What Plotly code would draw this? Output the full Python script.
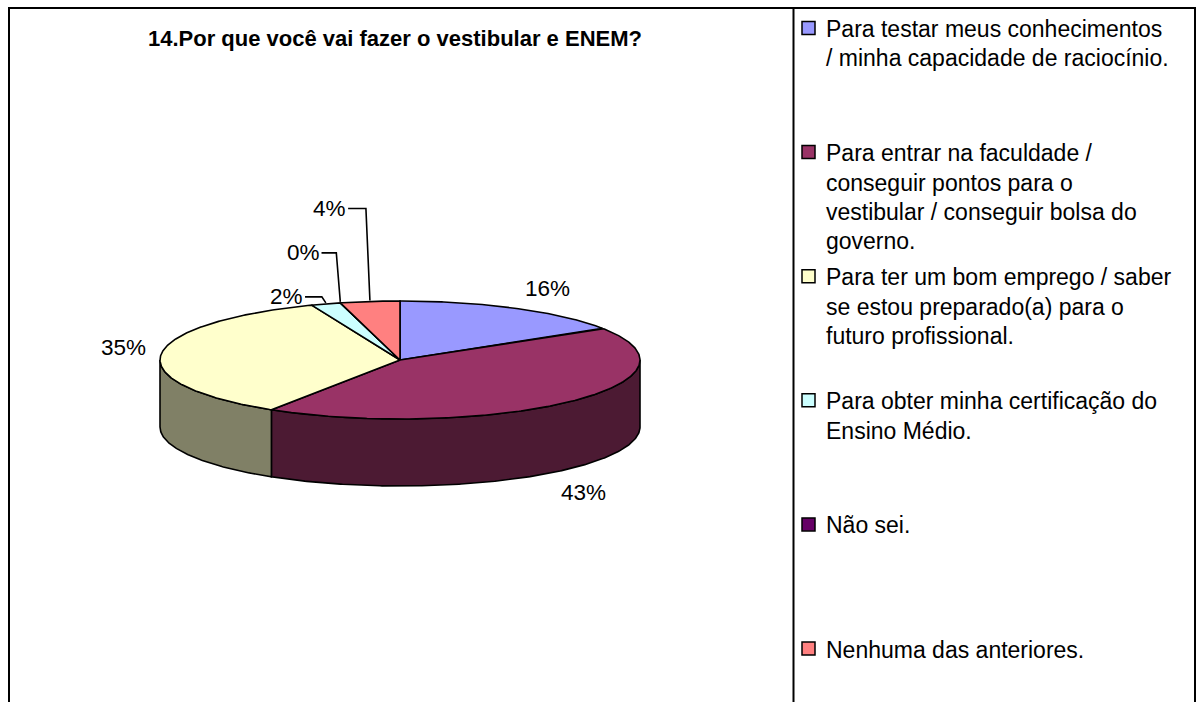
import math
import plotly.graph_objects as go

# ---------------- data ----------------
title = "14.Por que você vai fazer o vestibular e ENEM?"
categories = [
    "Para testar meus conhecimentos\n/ minha capacidade de raciocínio.",
    "Para entrar na faculdade /\nconseguir pontos para o\nvestibular / conseguir bolsa do\ngoverno.",
    "Para ter um bom emprego / saber\nse estou preparado(a) para o\nfuturo profissional.",
    "Para obter minha certificação do\nEnsino Médio.",
    "Não sei.",
    "Nenhuma das anteriores.",
]
values = [16, 43, 35, 2, 0, 4]
percent_labels = ["16%", "43%", "35%", "2%", "0%", "4%"]
colors = ["#9999FF", "#993366", "#FFFFCC", "#CCFFFF", "#660066", "#FF8080"]

# ---------------- layout / style ----------------
W, H = 1202, 702
CX, CY, RX, RY, DEPTH = 400, 360, 240, 59, 67
FONT = "Liberation Sans, Arial, sans-serif"
OUT = "#000000"
label_offsets = [(32, -20), (14, 24), (-38, -6.5), (-39, -7), (-37, -50), (-40, -93)]
LEG_X_BOX, LEG_X_TEXT = 802, 824
LEG_Y0, LEG_DY, LINE_DY = 28, 124.1, 29.4


def darker(hexc, f=0.5):
    h = hexc.lstrip("#")
    r, g, b = (int(h[i:i + 2], 16) for i in (0, 2, 4))
    return "rgb(%d,%d,%d)" % (round(r * f), round(g * f), round(b * f))


def pt(theta, dy=0.0):
    t = math.radians(theta)
    return CX + RX * math.sin(t), CY - RY * math.cos(t) + dy


def arc(a, b, dy=0.0, step=0.5):
    n = max(2, int(abs(b - a) / step) + 1)
    xs, ys = [], []
    for i in range(n):
        th = a + (b - a) * i / (n - 1)
        x, y = pt(th, dy)
        xs.append(x)
        ys.append(y)
    return xs, ys


total = float(sum(values))
angles = []
acc = 0.0
for v in values:
    a = acc / total * 360.0
    acc += v
    b = acc / total * 360.0
    angles.append((a, b))

fig = go.Figure()

# side walls (front half only)
for (a, b), c in zip(angles, colors):
    lo, hi = max(a, 90.0), min(b, 270.0)
    if hi <= lo:
        continue
    tx, ty = arc(lo, hi)
    bx, by = arc(hi, lo, DEPTH)
    xs = tx + bx + [tx[0]]
    ys = ty + by + [ty[0]]
    fig.add_trace(go.Scatter(x=xs, y=ys, mode="lines", fill="toself",
                             fillcolor=darker(c), line=dict(color=OUT, width=1.6),
                             hoverinfo="skip", showlegend=False))

# top faces
for (a, b), c in zip(angles, colors):
    ax_, ay_ = arc(a, b)
    xs = [CX] + ax_ + [CX]
    ys = [CY] + ay_ + [CY]
    fig.add_trace(go.Scatter(x=xs, y=ys, mode="lines", fill="toself",
                             fillcolor=c, line=dict(color=OUT, width=1.6),
                             hoverinfo="skip", showlegend=False))

annotations = []
# percentage labels and leader lines
for i, ((a, b), lab) in enumerate(zip(angles, percent_labels)):
    mid = (a + b) / 2.0
    front = math.cos(math.radians(mid)) < 0
    px, py = pt(mid, DEPTH if front else 0.0)
    ox, oy = label_offsets[i]
    lx, ly = px + ox, py + oy
    annotations.append(dict(x=lx, y=ly, xref="x", yref="y", text=lab, showarrow=False,
                            xanchor="center", yanchor="middle",
                            font=dict(family=FONT, size=22.5, color="#000000")))
    if values[i] < 5:
        half_w = 0.36 * 22.5 * len(lab)
        x_start = lx + half_w + 2
        x_corner = px - 4
        fig.add_trace(go.Scatter(x=[x_start, x_corner, px], y=[ly, ly, py - 1],
                                 mode="lines", line=dict(color=OUT, width=1.6),
                                 hoverinfo="skip", showlegend=False))

# title
annotations.append(dict(x=395, y=38, xref="x", yref="y", text="<b>%s</b>" % title,
                        showarrow=False, xanchor="center", yanchor="middle",
                        font=dict(family=FONT, size=22, color="#000000")))

shapes = []
# outer frame and legend divider
shapes.append(dict(type="rect", xref="x", yref="y", x0=9, y0=8, x1=1195, y1=712,
                   line=dict(color="#000000", width=2), fillcolor="rgba(0,0,0,0)"))
shapes.append(dict(type="line", xref="x", yref="y", x0=793.5, y0=8, x1=793.5, y1=712,
                   line=dict(color="#000000", width=2)))

# legend
for i, (cat, c) in enumerate(zip(categories, colors)):
    yc = LEG_Y0 + i * LEG_DY
    shapes.append(dict(type="rect", xref="x", yref="y",
                       x0=LEG_X_BOX, y0=yc - 6.5, x1=LEG_X_BOX + 13, y1=yc + 6.5,
                       fillcolor=c, line=dict(color="#000000", width=1.5)))
    for j, line in enumerate(cat.split("\n")):
        annotations.append(dict(x=LEG_X_TEXT, y=yc + 1 + j * LINE_DY, xref="x", yref="y",
                                text=line, showarrow=False, xanchor="left", yanchor="middle",
                                font=dict(family=FONT, size=23, color="#000000")))

fig.update_layout(
    width=W, height=H,
    margin=dict(l=0, r=0, t=0, b=0),
    paper_bgcolor="#FFFFFF", plot_bgcolor="#FFFFFF",
    xaxis=dict(range=[0, W], visible=False, fixedrange=True),
    yaxis=dict(range=[H, 0], visible=False, fixedrange=True),
    showlegend=False,
    annotations=annotations,
    shapes=shapes,
)

fig.write_html("out.html", config={"displayModeBar": False},
               post_script="document.body.style.margin='0';document.body.style.overflow='hidden';")
